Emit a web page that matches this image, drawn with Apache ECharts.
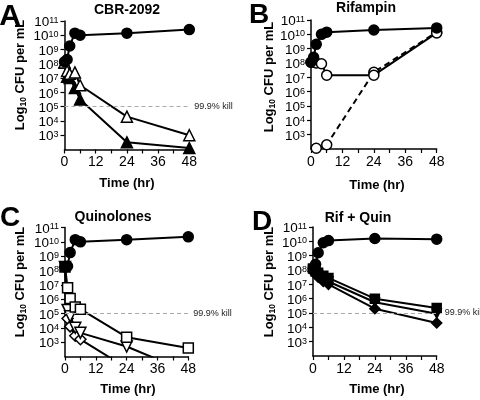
<!DOCTYPE html>
<html><head><meta charset="utf-8">
<script src="https://cdn.jsdelivr.net/npm/echarts@6/dist/echarts.min.js"></script>
<style>html,body{margin:0;padding:0;background:#fff}#c{width:480px;height:400px}</style>
</head><body><div id="c"></div>
<script>
// ---------- data (log10 CFU per mL) ----------
const xTicks = [0, 12, 24, 36, 48];
const yDecades = [3, 4, 5, 6, 7, 8, 9, 10, 11];
const killLevel = 5;

// Panel A: CBR-2092
const aTime = [0, 1, 2, 4, 6, 24, 48];
const aControl = [8.15, 8.3, 9.25, 10.15, 10.0, 10.15, 10.4];
const aOpenTri = [8.1, 7.5, 7.3, 7.4, 6.5, 4.3, 3.0];
const aFilledTri = [8.1, 7.1, 7.0, 6.3, 5.5, 2.5, 2.1];

// Panel B: Rifampin
const bTime = [0, 1, 2, 4, 6, 24, 48];
const bControl = [8.05, 8.4, 9.3, 10.0, 10.15, 10.3, 10.45];
const bRifTime = [0, 2, 4, 6, 24, 48];
const bRif = [8.05, 8.0, 7.95, 7.15, 7.15, 10.1];
const bResTime = [2, 6, 24, 48];
const bRes = [2.05, 2.3, 7.35, 10.15];

// Panel C: Quinolones
const cTime = [0, 1, 2, 4, 6, 24, 48];
const cControl = [8.25, 8.3, 9.25, 10.15, 10.0, 10.15, 10.35];
const cSquare = [8.25, 6.8, 6.05, 5.45, 5.3, 3.35, 2.6];
const cTriDown = [8.25, 5.25, 4.8, 4.0, 3.65, 2.7, 0.9];
const cDiamondTime = [0, 1, 2, 4, 6, 24];
const cDiamond = [8.25, 4.65, 4.1, 3.45, 3.2, 1.2];

// Panel D: Rif + Quin
const dTime = [0, 1, 2, 4, 6, 24, 48];
const dControl = [8.1, 8.4, 9.2, 9.9, 10.05, 10.2, 10.15];
const dSquare = [8.1, 7.9, 7.8, 7.6, 7.45, 6.0, 5.35];
const dTri = [8.0, 7.8, 7.6, 7.4, 7.2, 5.75, 4.95];
const dDiamond = [7.9, 7.7, 7.5, 7.2, 7.0, 5.3, 4.3];

// ---------- helpers ----------
const FONT = '"Liberation Sans", Arial, Helvetica, sans-serif';
const pairs = (t, v) => t.map((x, i) => [x, v[i]]);

const grids = [
  {left: 64.5, top: 21, width: 124.8, height: 128.5},
  {left: 311, top: 20, width: 125.7, height: 129},
  {left: 65, top: 227.5, width: 123.3, height: 129},
  {left: 313, top: 227, width: 123.7, height: 129}
];

function xAxis(i) {
  return {
    gridIndex: i, type: 'value', min: 0, max: 48, interval: 12,
    splitLine: {show: false},
    axisLine: {lineStyle: {color: '#000', width: 1.5}},
    axisTick: {length: 4, lineStyle: {color: '#000', width: 1.2}},
    minorTick: {show: true, splitNumber: 2, length: 4, lineStyle: {color: '#000', width: 1.2}},
    axisLabel: {color: '#000', fontSize: 14, fontFamily: FONT, margin: 6,
      showMinLabel: true, showMaxLabel: true, hideOverlap: false,
      formatter: v => String(v)}
  };
}
function yAxis(i) {
  return {
    gridIndex: i, type: 'value', min: 2, max: 11, interval: 1,
    splitLine: {show: false},
    axisLine: {onZero: false, lineStyle: {color: '#000', width: 1.5}},
    axisTick: {length: 4, lineStyle: {color: '#000', width: 1.2},
      customValues: yDecades},
    axisLabel: {
      color: '#000', fontFamily: FONT, margin: 6, padding: [3, 0, 0, 0],
      interval: 0, showMinLabel: true, showMaxLabel: true, hideOverlap: false,
      customValues: yDecades,
      formatter: v => '{b|10}{s|' + v + '}',
      rich: {
        b: {fontSize: 13.5, lineHeight: 13, fontFamily: FONT, color: '#000'},
        s: {fontSize: 9, lineHeight: 9, verticalAlign: 'top', fontFamily: FONT, color: '#000'}
      }
    }
  };
}
function mkSeries(i, data, opt) {
  return {
    type: 'line', xAxisIndex: i, yAxisIndex: i, data: data,
    symbol: opt.symbol, symbolRotate: opt.rotate || 0, symbolSize: opt.size || 10,
    lineStyle: {color: '#000', width: 2, type: opt.dashed ? [6, 4] : 'solid'},
    itemStyle: {color: opt.filled ? '#000' : '#fff', borderColor: '#000', borderWidth: 1.5},
    z: opt.z || 2
  };
}
function killLine(i, dist) {
  return {
    type: 'line', xAxisIndex: i, yAxisIndex: i, data: [], silent: true,
    markLine: {
      silent: true, symbol: ['none', 'none'], animation: false,
      lineStyle: {color: '#aaa', width: 1, type: [4, 3]},
      label: {show: true, position: 'end', distance: dist, formatter: '99.9% kill',
        fontSize: 9, color: '#222', fontFamily: FONT},
      data: [[{coord: [0, killLevel]}, {coord: [48, killLevel]}]]
    }
  };
}

// C: first square is filled
const cSquareData = pairs(cTime, cSquare).map((p, i) => i === 0 ? {value: p, itemStyle: {color: '#000'}} : p);

const series = [
  killLine(0, 5), killLine(2, 5), killLine(3, 8),
  // A
  mkSeries(0, pairs(aTime, aFilledTri), {symbol: 'triangle', filled: true, size: 11}),
  mkSeries(0, pairs(aTime, aOpenTri), {symbol: 'triangle', filled: false, size: 11}),
  mkSeries(0, pairs(aTime, aControl), {symbol: 'circle', filled: true, z: 3}),
  // B
  mkSeries(1, pairs(bResTime, bRes), {symbol: 'circle', filled: false, dashed: true}),
  mkSeries(1, pairs(bRifTime, bRif), {symbol: 'circle', filled: false}),
  mkSeries(1, pairs(bTime, bControl), {symbol: 'circle', filled: true, z: 3}),
  // C
  mkSeries(2, pairs(cDiamondTime, cDiamond), {symbol: 'diamond', filled: false, size: 11}),
  mkSeries(2, pairs(cTime, cTriDown), {symbol: 'triangle', rotate: 180, filled: false, size: 11}),
  mkSeries(2, cSquareData, {symbol: 'rect', filled: false}),
  mkSeries(2, pairs(cTime, cControl), {symbol: 'circle', filled: true, z: 3}),
  // D
  mkSeries(3, pairs(dTime, dDiamond), {symbol: 'diamond', filled: true, size: 10}),
  mkSeries(3, pairs(dTime, dTri), {symbol: 'triangle', rotate: 180, filled: true, size: 9}),
  mkSeries(3, pairs(dTime, dSquare), {symbol: 'rect', filled: true, size: 9}),
  mkSeries(3, pairs(dTime, dControl), {symbol: 'circle', filled: true, z: 3})
];

// ---------- text ----------
function txt(x, y, text, size) {
  return {
    type: 'text', x: x, y: y, silent: true,
    style: {text: text, fontSize: size, fontWeight: 'bold', fontFamily: FONT, fill: '#000',
      align: 'center', verticalAlign: 'middle'}
  };
}
function yTitle(x, y) {
  return {
    type: 'text', x: x, y: y, rotation: Math.PI / 2, silent: true,
    style: {
      text: '{a|Log}{sub|10}{a| CFU per mL}', align: 'center', verticalAlign: 'middle',
      rich: {
        a: {fontSize: 13, fontWeight: 'bold', fontFamily: FONT, fill: '#000', lineHeight: 16},
        sub: {fontSize: 8.5, fontWeight: 'bold', fontFamily: FONT, fill: '#000', lineHeight: 8, verticalAlign: 'bottom'}
      }
    }
  };
}
const graphics = [
  txt(10, 17, 'A', 30), txt(259, 15, 'B', 28), txt(10, 218, 'C', 28), txt(262, 222, 'D', 28),
  txt(127, 10, 'CBR-2092', 14), txt(366, 8, 'Rifampin', 14),
  txt(113, 217, 'Quinolones', 14), txt(358, 218, 'Rif + Quin', 14),
  txt(127, 183, 'Time (hr)', 13), txt(377, 185, 'Time (hr)', 13),
  txt(128, 389, 'Time (hr)', 13), txt(377, 389, 'Time (hr)', 13),
  yTitle(20, 75), yTitle(269, 77), yTitle(20, 282), yTitle(269, 282)
];

const chart = echarts.init(document.getElementById('c'), null, {renderer: 'canvas'});
chart.setOption({
  animation: false,
  backgroundColor: '#fff',
  grid: grids.map(g => Object.assign({outerBoundsMode: 'none', containLabel: false}, g)),
  xAxis: [0, 1, 2, 3].map(xAxis),
  yAxis: [0, 1, 2, 3].map(yAxis),
  series: series,
  graphic: graphics
});
</script></body></html>
